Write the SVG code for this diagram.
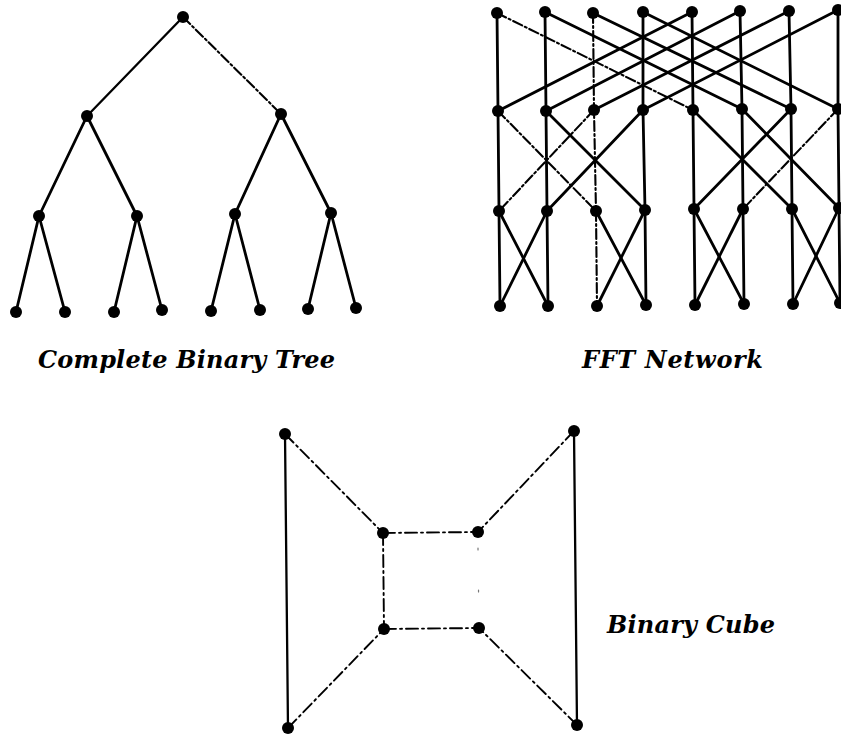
<svg xmlns="http://www.w3.org/2000/svg" width="841" height="734" viewBox="0 0 841 734">
<style>
.e{stroke:#000;stroke-width:2.8;fill:none;stroke-linecap:round}
.t{stroke-width:2.3}
.d{stroke-dasharray:10 3 2 3;stroke-width:2.1}
.f{stroke-dasharray:12 4 2 4;stroke-width:1.9}
.g{stroke-dasharray:2 40;stroke-width:1.2;stroke:#777}
.n{fill:#000}
.lbl{font-family:"DejaVu Serif","Liberation Serif",serif;font-style:italic;font-weight:bold;font-size:24px;fill:#000}
</style>
<rect width="841" height="734" fill="#fff"/>
<g id="connectors">
<line class="e t" x1="183" y1="17" x2="87" y2="116"/>
<line class="e d" x1="183" y1="17" x2="281" y2="114"/>
<line class="e" x1="87" y1="116" x2="39" y2="216"/>
<line class="e" x1="87" y1="116" x2="137" y2="216"/>
<line class="e" x1="281" y1="114" x2="235" y2="214"/>
<line class="e" x1="281" y1="114" x2="331" y2="213"/>
<line class="e" x1="39" y1="216" x2="16" y2="312"/>
<line class="e" x1="39" y1="216" x2="65" y2="312"/>
<line class="e" x1="137" y1="216" x2="114" y2="312"/>
<line class="e" x1="137" y1="216" x2="162" y2="310"/>
<line class="e" x1="235" y1="214" x2="211" y2="311"/>
<line class="e" x1="235" y1="214" x2="260" y2="310"/>
<line class="e" x1="331" y1="213" x2="308" y2="309"/>
<line class="e" x1="331" y1="213" x2="356" y2="308"/>
<polyline class="e" points="497,13 498,111 499,211 500,306"/>
<polyline class="e" points="545,12 546,111 547,211 548,306"/>
<polyline class="e d" points="593,13 594,110 596,211 597,306"/>
<polyline class="e" points="643,12 643,110 645,210 646,305"/>
<polyline class="e" points="692,12 693,110 694,209 695,305"/>
<polyline class="e" points="740,11 742,109 743,209 744,304"/>
<polyline class="e" points="789,11 791,109 792,209 793,304"/>
<polyline class="e" points="838,10 838,109 839,208 840,303"/>
<line class="e d" x1="497" y1="13" x2="693" y2="110"/>
<line class="e" x1="545" y1="12" x2="742" y2="109"/>
<line class="e" x1="593" y1="13" x2="791" y2="109"/>
<line class="e" x1="643" y1="12" x2="838" y2="109"/>
<line class="e" x1="692" y1="12" x2="498" y2="111"/>
<line class="e" x1="740" y1="11" x2="546" y2="111"/>
<line class="e" x1="789" y1="11" x2="594" y2="110"/>
<line class="e" x1="838" y1="10" x2="643" y2="110"/>
<line class="e d" x1="498" y1="111" x2="596" y2="211"/>
<line class="e" x1="546" y1="111" x2="645" y2="210"/>
<line class="e d" x1="594" y1="110" x2="499" y2="211"/>
<line class="e" x1="643" y1="110" x2="547" y2="211"/>
<line class="e" x1="693" y1="110" x2="792" y2="209"/>
<line class="e" x1="742" y1="109" x2="839" y2="208"/>
<line class="e" x1="791" y1="109" x2="694" y2="209"/>
<line class="e d" x1="838" y1="109" x2="743" y2="209"/>
<line class="e" x1="499" y1="211" x2="548" y2="306"/>
<line class="e" x1="547" y1="211" x2="500" y2="306"/>
<line class="e" x1="596" y1="211" x2="646" y2="305"/>
<line class="e" x1="645" y1="210" x2="597" y2="306"/>
<line class="e" x1="694" y1="209" x2="744" y2="304"/>
<line class="e" x1="743" y1="209" x2="695" y2="305"/>
<line class="e" x1="792" y1="209" x2="840" y2="303"/>
<line class="e" x1="839" y1="208" x2="793" y2="304"/>
<line class="e t" x1="285" y1="434" x2="288" y2="728"/>
<line class="e t" x1="574" y1="431" x2="577" y2="725"/>
<line class="e f" x1="285" y1="434" x2="383" y2="533"/>
<line class="e f" x1="574" y1="431" x2="478" y2="532"/>
<line class="e f" x1="288" y1="728" x2="384" y2="629"/>
<line class="e f" x1="577" y1="725" x2="479" y2="628"/>
<line class="e f" x1="383" y1="533" x2="478" y2="532"/>
<line class="e f" x1="384" y1="629" x2="479" y2="628"/>
<line class="e f" x1="383" y1="533" x2="384" y2="629"/>
<line class="e g" x1="478" y1="548" x2="479" y2="628"/>
</g>
<g id="tree-root"><circle class="n" cx="183" cy="17" r="6"/></g>
<g id="tree-l1a"><circle class="n" cx="87" cy="116" r="6"/></g>
<g id="tree-l1b"><circle class="n" cx="281" cy="114" r="6"/></g>
<g id="tree-l2a"><circle class="n" cx="39" cy="216" r="6"/></g>
<g id="tree-l2b"><circle class="n" cx="137" cy="216" r="6"/></g>
<g id="tree-l2c"><circle class="n" cx="235" cy="214" r="6"/></g>
<g id="tree-l2d"><circle class="n" cx="331" cy="213" r="6"/></g>
<g id="tree-leaf0"><circle class="n" cx="16" cy="312" r="6"/></g>
<g id="tree-leaf1"><circle class="n" cx="65" cy="312" r="6"/></g>
<g id="tree-leaf2"><circle class="n" cx="114" cy="312" r="6"/></g>
<g id="tree-leaf3"><circle class="n" cx="162" cy="310" r="6"/></g>
<g id="tree-leaf4"><circle class="n" cx="211" cy="311" r="6"/></g>
<g id="tree-leaf5"><circle class="n" cx="260" cy="310" r="6"/></g>
<g id="tree-leaf6"><circle class="n" cx="308" cy="309" r="6"/></g>
<g id="tree-leaf7"><circle class="n" cx="356" cy="308" r="6"/></g>
<g id="fft-0-0"><circle class="n" cx="497" cy="13" r="6"/></g>
<g id="fft-0-1"><circle class="n" cx="545" cy="12" r="6"/></g>
<g id="fft-0-2"><circle class="n" cx="593" cy="13" r="6"/></g>
<g id="fft-0-3"><circle class="n" cx="643" cy="12" r="6"/></g>
<g id="fft-0-4"><circle class="n" cx="692" cy="12" r="6"/></g>
<g id="fft-0-5"><circle class="n" cx="740" cy="11" r="6"/></g>
<g id="fft-0-6"><circle class="n" cx="789" cy="11" r="6"/></g>
<g id="fft-0-7"><circle class="n" cx="838" cy="10" r="6"/></g>
<g id="fft-1-0"><circle class="n" cx="498" cy="111" r="6"/></g>
<g id="fft-1-1"><circle class="n" cx="546" cy="111" r="6"/></g>
<g id="fft-1-2"><circle class="n" cx="594" cy="110" r="6"/></g>
<g id="fft-1-3"><circle class="n" cx="643" cy="110" r="6"/></g>
<g id="fft-1-4"><circle class="n" cx="693" cy="110" r="6"/></g>
<g id="fft-1-5"><circle class="n" cx="742" cy="109" r="6"/></g>
<g id="fft-1-6"><circle class="n" cx="791" cy="109" r="6"/></g>
<g id="fft-1-7"><circle class="n" cx="838" cy="109" r="6"/></g>
<g id="fft-2-0"><circle class="n" cx="499" cy="211" r="6"/></g>
<g id="fft-2-1"><circle class="n" cx="547" cy="211" r="6"/></g>
<g id="fft-2-2"><circle class="n" cx="596" cy="211" r="6"/></g>
<g id="fft-2-3"><circle class="n" cx="645" cy="210" r="6"/></g>
<g id="fft-2-4"><circle class="n" cx="694" cy="209" r="6"/></g>
<g id="fft-2-5"><circle class="n" cx="743" cy="209" r="6"/></g>
<g id="fft-2-6"><circle class="n" cx="792" cy="209" r="6"/></g>
<g id="fft-2-7"><circle class="n" cx="839" cy="208" r="6"/></g>
<g id="fft-3-0"><circle class="n" cx="500" cy="306" r="6"/></g>
<g id="fft-3-1"><circle class="n" cx="548" cy="306" r="6"/></g>
<g id="fft-3-2"><circle class="n" cx="597" cy="306" r="6"/></g>
<g id="fft-3-3"><circle class="n" cx="646" cy="305" r="6"/></g>
<g id="fft-3-4"><circle class="n" cx="695" cy="305" r="6"/></g>
<g id="fft-3-5"><circle class="n" cx="744" cy="304" r="6"/></g>
<g id="fft-3-6"><circle class="n" cx="793" cy="304" r="6"/></g>
<g id="fft-3-7"><circle class="n" cx="840" cy="303" r="6"/></g>
<g id="cube-outer-tl"><circle class="n" cx="285" cy="434" r="6"/></g>
<g id="cube-outer-tr"><circle class="n" cx="574" cy="431" r="6"/></g>
<g id="cube-outer-bl"><circle class="n" cx="288" cy="728" r="6"/></g>
<g id="cube-outer-br"><circle class="n" cx="577" cy="725" r="6"/></g>
<g id="cube-inner-tl"><circle class="n" cx="383" cy="533" r="6"/></g>
<g id="cube-inner-tr"><circle class="n" cx="478" cy="532" r="6"/></g>
<g id="cube-inner-bl"><circle class="n" cx="384" cy="629" r="6"/></g>
<g id="cube-inner-br"><circle class="n" cx="479" cy="628" r="6"/></g>
<g id="labels">
<text class="lbl" x="38" y="368" textLength="297" lengthAdjust="spacing">Complete Binary Tree</text>
<text class="lbl" x="582" y="368" textLength="181" lengthAdjust="spacing">FFT Network</text>
<text class="lbl" x="607" y="633" textLength="168" lengthAdjust="spacing">Binary Cube</text>
</g>
</svg>
